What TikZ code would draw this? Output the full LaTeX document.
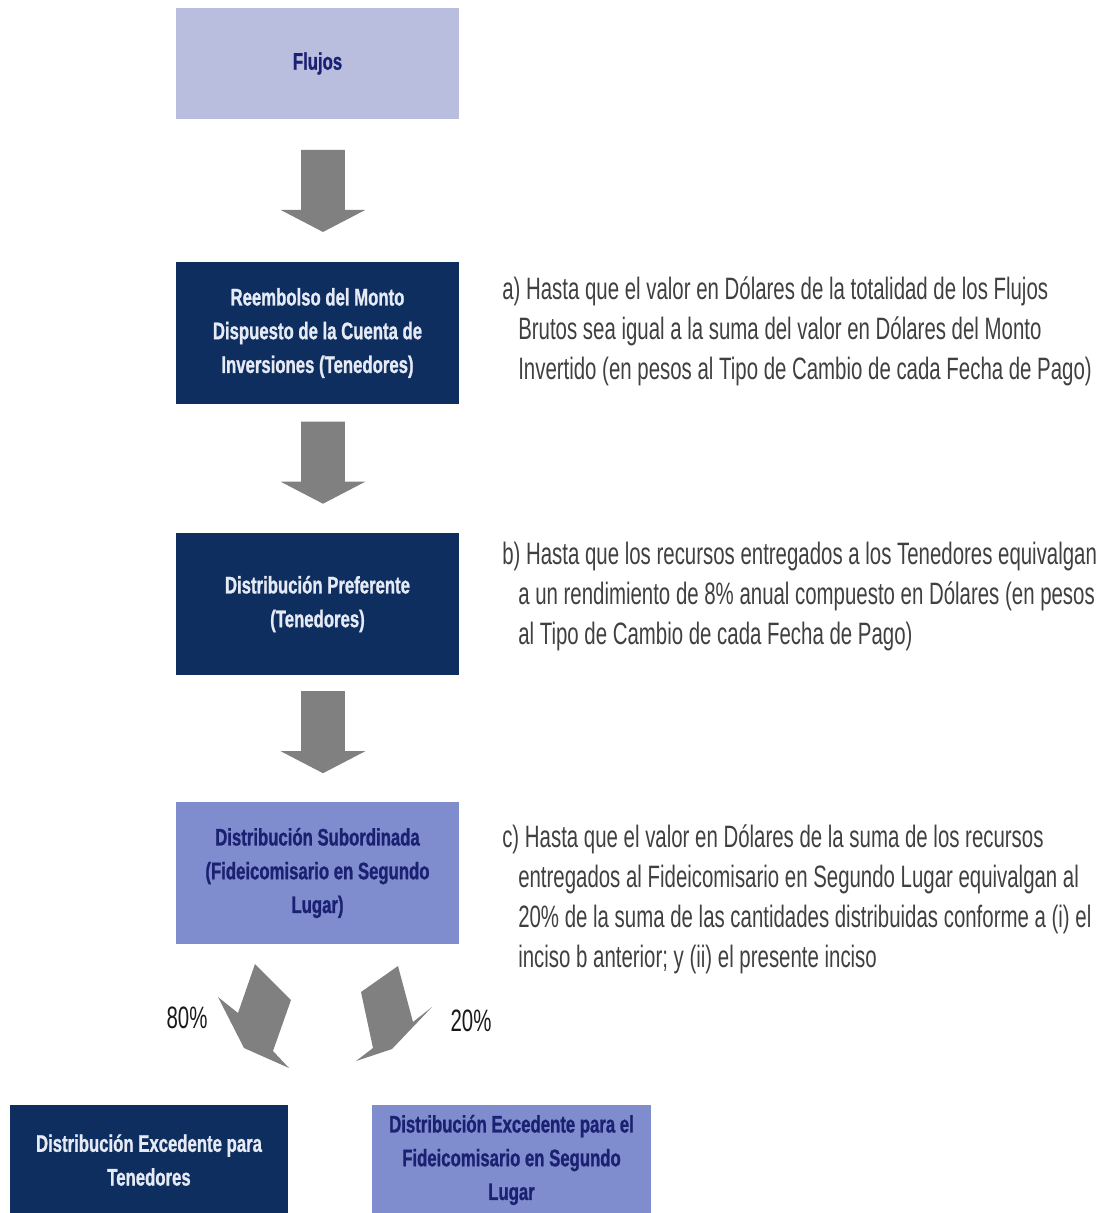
\documentclass[tikz,border=0pt]{standalone}
\usepackage{fontspec}
\usetikzlibrary{shapes.arrows, calc}

\setmainfont{Liberation Sans}
\newfontfamily\boxfont{Liberation Sans Bold}[FakeStretch=0.7, FakeBold=1]
\newfontfamily\notefont{Liberation Sans}[FakeStretch=0.66]

\definecolor{flujosfill}{HTML}{B9BEDF}
\definecolor{navyfill}{HTML}{0D2E5F}
\definecolor{lilacfill}{HTML}{7F8CCD}
\definecolor{navytext}{HTML}{1B2172}
\definecolor{paletext}{HTML}{E6EAF5}
\definecolor{arrowgray}{HTML}{808080}
\definecolor{notegray}{HTML}{404040}

\begin{document}
\begin{tikzpicture}[
  x=0.025cm, y=-0.025cm,
  box/.style={
    rectangle, inner sep=0pt, align=center,
    minimum width=7.05cm, minimum height=3.55cm,
    font=\boxfont\fontsize{17}{24}\selectfont
  },
  darkbox/.style={box, fill=navyfill, text=paletext},
  lightbox/.style={box, fill=lilacfill, text=navytext},
  downarrow/.style={
    single arrow, fill=arrowgray, rotate=-90,
    inner xsep=0pt, inner ysep=0.54cm,
    minimum height=2.05cm, minimum width=2.1cm,
    single arrow head extend=0.51cm, single arrow tip angle=125
  },
  note/.style={
    anchor=north west, align=left, inner sep=0pt, text=notegray,
    font=\notefont\fontsize{22}{28.45}\selectfont
  },
  pct/.style={inner sep=0pt, text=black!90,
    font=\notefont\fontsize{22}{28.45}\selectfont}
  ]
  \useasboundingbox (0,0) rectangle (1097,1213);

  % cajas
  \node[box, fill=flujosfill, text=navytext, minimum height=2.75cm]
    (flujos) at (317.5,63.5) {Flujos};
  \node[darkbox] (reembolso) at (317.5,333)
    {Reembolso del Monto\\Dispuesto de la Cuenta de\\Inversiones (Tenedores)};
  \node[darkbox] (preferente) at (317.5,604)
    {Distribución Preferente\\(Tenedores)};
  \node[lightbox] (subordinada) at (317.5,873)
    {Distribución Subordinada\\(Fideicomisario en Segundo\\Lugar)};
  \node[darkbox, minimum width=6.95cm, minimum height=2.75cm]
    (exctenedores) at (149,1160) {Distribución Excedente para\\Tenedores};
  \node[lightbox, minimum width=6.975cm, minimum height=2.75cm]
    (excfideicomisario) at (511.5,1160)
    {Distribución Excedente para el\\Fideicomisario en Segundo\\Lugar};

  % flechas
  \node[downarrow] (flecha1) at ($(flujos.south)!0.5!(reembolso.north)+(5.5,-5)$) {};
  \node[downarrow] (flecha2) at ($(reembolso.south)!0.5!(preferente.north)+(5.5,-11.5)$) {};
  \node[downarrow] (flecha3) at ($(preferente.south)!0.5!(subordinada.north)+(5.5,-12)$) {};
  \fill[arrowgray] (255,964) -- (291,1000) -- (273,1051) -- (289,1068)
    -- (244,1048) -- (218,997) -- (238,1013) -- cycle;
  \fill[arrowgray] (361,992) -- (398,966) -- (413,1022) -- (432,1007)
    -- (392,1049) -- (356,1061) -- (373,1048) -- cycle;
  \node[pct] (pct80) at (187,1018) {80\%};
  \node[pct] (pct20) at (471,1021) {20\%};

  % notas
  \node[note] (notaa) at (502,276)
    {a) Hasta que el valor en Dólares de la totalidad de los Flujos\\
     \hspace*{0.4cm}Brutos sea igual a la suma del valor en Dólares del Monto\\
     \hspace*{0.4cm}Invertido (en pesos al Tipo de Cambio de cada Fecha de Pago)};
  \node[note] (notab) at (502,542)
    {b) Hasta que los recursos entregados a los Tenedores equivalgan\\
     \hspace*{0.4cm}a un rendimiento de 8\% anual compuesto en Dólares (en pesos\\
     \hspace*{0.4cm}al Tipo de Cambio de cada Fecha de Pago)};
  \node[note] (notac) at (502,824)
    {c) Hasta que el valor en Dólares de la suma de los recursos\\
     \hspace*{0.4cm}entregados al Fideicomisario en Segundo Lugar equivalgan al\\
     \hspace*{0.4cm}20\% de la suma de las cantidades distribuidas conforme a (i) el\\
     \hspace*{0.4cm}inciso b anterior; y (ii) el presente inciso};
\end{tikzpicture}
\end{document}
